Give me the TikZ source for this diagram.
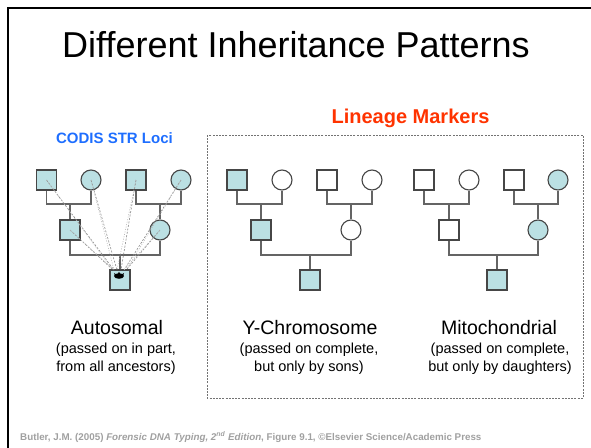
\documentclass[tikz,border=0pt]{standalone}
\usepackage{fontspec}
\setmainfont{Liberation Sans}
\usetikzlibrary{arrows.meta}
\definecolor{pedfill}{RGB}{187,224,227}
\definecolor{pedline}{RGB}{70,70,70}
\definecolor{linkgray}{RGB}{100,100,100}
\definecolor{codisblue}{RGB}{30,110,255}
\definecolor{linred}{RGB}{255,51,0}
\definecolor{footgray}{RGB}{160,160,160}
\tikzset{
  sq/.style={draw=pedline, line width=1.1pt, minimum size=20pt, inner sep=0pt, rectangle},
  ci/.style={draw=pedline, line width=1.1pt, minimum size=20pt, inner sep=0pt, circle},
  filled/.style={fill=pedfill},
  empty/.style={fill=white},
  link/.style={draw=linkgray, line width=1.4pt},
  tracedark/.style={draw=gray!90, line width=0.6pt, dash pattern=on 2pt off 1.5pt},
  tracelight/.style={draw=gray!55, line width=0.6pt, dash pattern=on 1pt off 1.5pt},
  lbl/.style={font=\fontsize{19.5}{22}\selectfont, inner sep=0pt, anchor=base},
  sublbl/.style={font=\fontsize{14.5}{18}\selectfont, align=center, inner sep=0pt, anchor=base}
}
\begin{document}
\begin{tikzpicture}[x=1pt,y=-1pt]
\useasboundingbox (0,0) rectangle (591,447);
% frame
\draw[line width=2.5pt, line cap=rect] (8,447) -- (8,8) -- (591,8);
% title
\node[font=\fontsize{36}{40}\selectfont, inner sep=0pt] (title) at (296,45) {Different Inheritance Patterns};
\node[font=\bfseries\fontsize{15}{17}\selectfont, text=codisblue, inner sep=0pt] (codis) at (114.5,138) {CODIS STR Loci};
\node[font=\bfseries\fontsize{20}{22}\selectfont, text=linred, inner sep=0pt] (lineage) at (410.5,118) {Lineage Markers};
% dashed box
\draw[draw=gray!90!black, line width=1pt, dash pattern=on 2pt off 1.2pt] (207,135) rectangle (583,398);

% ---------- Autosomal ----------
\node[sq, filled] (a1) at (46.5,180) {};
\node[ci, filled] (a2) at (91,180) {};
\node[sq, filled] (a3) at (136,180) {};
\node[ci, filled] (a4) at (181,180) {};
\node[sq, filled] (a5) at (70,230) {};
\node[ci, filled] (a6) at (160,230) {};
\node[sq, filled] (a7) at (120,280) {};
\coordinate (aj1) at (70,204);
\coordinate (aj2) at (160,204);
\coordinate (aj3) at (120,255);
\draw[link] (a1.south) |- (aj1) -| (a2.south);
\draw[link] (aj1) -- (a5.north);
\draw[link] (a3.south) |- (aj2) -| (a4.south);
\draw[link] (aj2) -- (a6.north);
\draw[link] (a5.south) |- (aj3) -| (a6.south);
\draw[link] (aj3) -- (a7.north);
% traces
\coordinate (t1) at (112,269);
\coordinate (t2) at (114,270);
\coordinate (t3) at (117,270);
\coordinate (t4) at (121,270);
\coordinate (t5) at (124,270);
\coordinate (t6) at (127,269);
\draw[tracedark] (a1.center) -- (t2);
\draw[tracelight] (a1.center) -- (t1);
\draw[tracedark] (a2.center) -- (t3);
\draw[tracelight] (a2.center) -- (t2);
\draw[tracedark] (a3.center) -- (t4);
\draw[tracelight] (a3.center) -- (t3);
\draw[tracedark] (a4.center) -- (t5);
\draw[tracelight] (a4.center) -- (t6);
\draw[tracedark] (a5.center) -- (t1);
\draw[tracelight] (a5.center) -- (t2);
\draw[tracedark] (a6.center) -- (t6);
\draw[tracelight] (a6.center) -- (t5);
\fill[black] (119,276) ellipse [x radius=5pt, y radius=2.8pt];
\fill[black] (114,273) -- (117,275) -- (115,276) -- cycle;
\fill[black] (124,273) -- (121,275) -- (123,276) -- cycle;
\fill[black] (119,271.5) -- (120.5,275) -- (117.5,275) -- cycle;

% ---------- Y-Chromosome ----------
\node[sq, filled] (y1) at (237,180) {};
\node[ci, empty] (y2) at (282,180) {};
\node[sq, empty] (y3) at (327,180) {};
\node[ci, empty] (y4) at (372,180) {};
\node[sq, filled] (y5) at (261,230) {};
\node[ci, empty] (y6) at (351,230) {};
\node[sq, filled] (y7) at (310,280) {};
\coordinate (yj1) at (261,204);
\coordinate (yj2) at (351,204);
\coordinate (yj3) at (310,255);
\draw[link] (y1.south) |- (yj1) -| (y2.south);
\draw[link] (yj1) -- (y5.north);
\draw[link] (y3.south) |- (yj2) -| (y4.south);
\draw[link] (yj2) -- (y6.north);
\draw[link] (y5.south) |- (yj3) -| (y6.south);
\draw[link] (yj3) -- (y7.north);

% ---------- Mitochondrial ----------
\node[sq, empty] (m1) at (424,180) {};
\node[ci, empty] (m2) at (469,180) {};
\node[sq, empty] (m3) at (514,180) {};
\node[ci, filled] (m4) at (558,180) {};
\node[sq, empty] (m5) at (449,230) {};
\node[ci, filled] (m6) at (538,230) {};
\node[sq, filled] (m7) at (497,280) {};
\coordinate (mj1) at (449,204);
\coordinate (mj2) at (538,204);
\coordinate (mj3) at (497,255);
\draw[link] (m1.south) |- (mj1) -| (m2.south);
\draw[link] (mj1) -- (m5.north);
\draw[link] (m3.south) |- (mj2) -| (m4.south);
\draw[link] (mj2) -- (m6.north);
\draw[link] (m5.south) |- (mj3) -| (m6.south);
\draw[link] (mj3) -- (m7.north);

% ---------- labels ----------
\node[lbl] (autol) at (117,334) {Autosomal};
\node[sublbl] (autos) at (116,371) {(passed on in part,\\from all ancestors)};
\node[lbl] (yl) at (310,334) {Y-Chromosome};
\node[sublbl] (ys) at (309,371) {(passed on complete,\\but only by sons)};
\node[lbl] (ml) at (499,334) {Mitochondrial};
\node[sublbl] (ms) at (500,371) {(passed on complete,\\but only by daughters)};

% footer
\node[anchor=base west, inner sep=0pt, text=footgray, font=\bfseries\fontsize{9.8}{11}\selectfont] (foot) at (20,440) {Butler, J.M. (2005) \textit{Forensic DNA Typing, 2\textsuperscript{nd} Edition},~Figure 9.1, ©Elsevier Science/Academic Press};
\end{tikzpicture}
\end{document}
